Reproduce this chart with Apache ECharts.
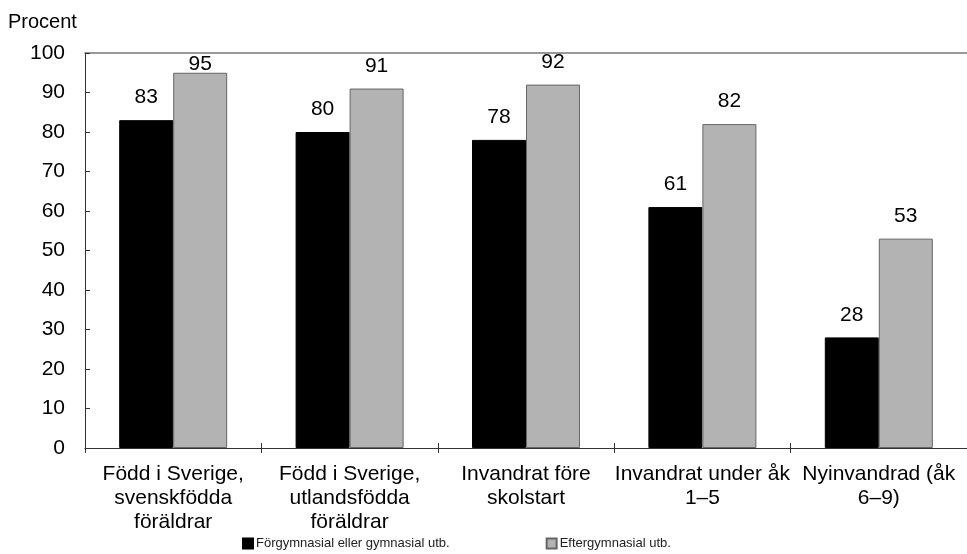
<!DOCTYPE html>
<html><head><meta charset="utf-8">
<script src="https://cdn.jsdelivr.net/npm/echarts@6/dist/echarts.min.js"></script>
<style>html,body{margin:0;padding:0;background:#fff}#c{width:967px;height:554px}</style>
</head><body><div id="c"></div>
<script>
var categories = ["Född i Sverige,\nsvenskfödda\nföräldrar", "Född i Sverige,\nutlandsfödda\nföräldrar", "Invandrat före\nskolstart", "Invandrat under åk\n1–5", "Nyinvandrad (åk\n6–9)"];
var seriesNames = ["Förgymnasial eller gymnasial utb.", "Eftergymnasial utb."];
var valuesLow = [83, 80, 78, 61, 28];
var valuesHigh = [95, 91, 92, 82, 53];
var yTicks = [0, 10, 20, 30, 40, 50, 60, 70, 80, 90, 100];

var font = "'Liberation Sans', Arial, sans-serif";
function items(arr) {
  return arr.map(function (v) { return { value: v, label: { distance: v > 93 ? -2 : 12 } }; });
}
var chart = echarts.init(document.getElementById('c'), null, { renderer: 'canvas' });
var labelStyle = { show: true, position: 'top', color: '#000', fontSize: 21, fontFamily: font };
chart.setOption({
  animation: false,
  textStyle: { fontFamily: font },
  grid: { left: 85, top: 53, width: 895, height: 395, containLabel: false },
  title: { text: 'Procent', left: 8, top: 12, padding: 0, textStyle: { fontSize: 20, fontWeight: 'normal', color: '#000', fontFamily: font } },
  legend: {
    left: 242, top: 537, padding: 0, itemWidth: 10, itemHeight: 10, itemGap: 96, icon: 'rect',
    textStyle: { fontSize: 13, color: '#222', fontFamily: font, padding: [0, 0, 0, -2] },
    data: seriesNames
  },
  xAxis: [
    { type: 'category', data: categories, position: 'bottom',
      axisLine: { lineStyle: { color: '#333', width: 1 } },
      axisTick: { show: true, length: 5, inside: false, lineStyle: { color: '#333' } },
      axisLabel: { fontSize: 21, color: '#000', lineHeight: 24, margin: 14, interval: 0, fontFamily: font } },
    { type: 'category', data: categories, position: 'bottom', gridIndex: 0,
      axisLine: { show: false },
      axisTick: { show: true, length: 5, inside: true, lineStyle: { color: '#333' } },
      axisLabel: { show: false } },
    { type: 'category', data: categories, position: 'top',
      axisLine: { show: true, lineStyle: { color: '#777', width: 1.5 } },
      axisTick: { show: false }, axisLabel: { show: false } }
  ],
  yAxis: {
    type: 'value', min: yTicks[0], max: yTicks[yTicks.length - 1], interval: 10,
    axisLine: { show: true, lineStyle: { color: '#333' } },
    axisTick: { show: true, inside: true, length: 5, lineStyle: { color: '#333' } },
    splitLine: { show: false },
    axisLabel: { fontSize: 21, color: '#000', margin: 20, fontFamily: font }
  },
  series: [
    { name: seriesNames[0], type: 'bar', data: items(valuesLow), barWidth: 54, barGap: '0%',
      itemStyle: { color: '#000', borderColor: '#000', borderWidth: 1 }, label: labelStyle },
    { name: seriesNames[1], type: 'bar', data: items(valuesHigh), barWidth: 54, barGap: '0%',
      itemStyle: { color: '#b3b3b3', borderColor: '#666', borderWidth: 1 }, label: labelStyle }
  ]
});
</script></body></html>
